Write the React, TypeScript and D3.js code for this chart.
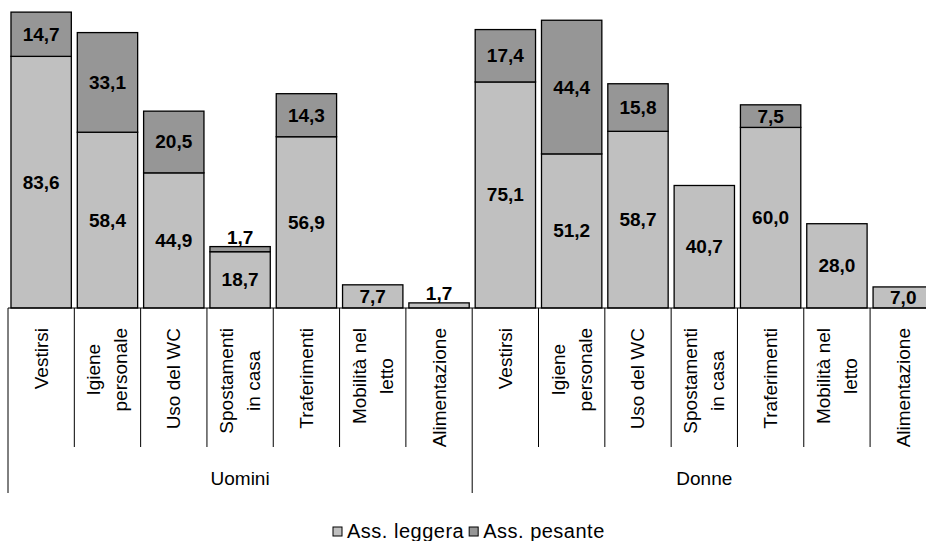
import React, { useEffect, useRef } from 'react'
import * as d3 from 'd3'

const W = 926
const H = 541

const groups = ['Uomini', 'Donne']
const categories = [
  ['Vestirsi'],
  ['Igiene', 'personale'],
  ['Uso del WC'],
  ['Spostamenti', 'in casa'],
  ['Traferimenti'],
  ['Mobilità nel', 'letto'],
  ['Alimentazione'],
]
const leggeraUomini = [83.6, 58.4, 44.9, 18.7, 56.9, 7.7, 1.7]
const pesanteUomini = [14.7, 33.1, 20.5, 1.7, 14.3, 0, 0]
const leggeraDonne = [75.1, 51.2, 58.7, 40.7, 60.0, 28.0, 7.0]
const pesanteDonne = [17.4, 44.4, 15.8, 0, 7.5, 0, 0]
const seriesNames = ['Ass. leggera', 'Ass. pesante']
const colors = ['#c0c0c0', '#969696']

const FONT = '"Liberation Sans", Arial, sans-serif'

export default function App() {
  const ref = useRef<SVGSVGElement | null>(null)

  useEffect(() => {
    if (!ref.current) return
    const svg = d3.select(ref.current)
    svg.selectAll('*').remove()

    const rows = groups.flatMap((g, gi) =>
      categories.map((lines, ci) => ({
        group: g,
        lines,
        leggera: gi === 0 ? leggeraUomini[ci] : leggeraDonne[ci],
        pesante: gi === 0 ? pesanteUomini[ci] : pesanteDonne[ci],
      }))
    )

    const left = 8
    const right = 936.4
    const axisY = 308
    const x = d3
      .scaleBand<number>()
      .domain(d3.range(rows.length))
      .range([left, right])
      .paddingInner(0.09)
      .paddingOuter(0.045)
    const step = (right - left) / rows.length
    const y = d3.scaleLinear().domain([0, 100]).range([axisY, 7])
    const fmt = (v: number) => d3.format('.1f')(v).replace('.', ',')

    const segs = rows.flatMap((r, i) => {
      const out = [{ i, y0: 0, y1: r.leggera, k: 0 }]
      if (r.pesante > 0) out.push({ i, y0: r.leggera, y1: r.leggera + r.pesante, k: 1 })
      return out
    })

    const bars = svg.append('g')
    bars
      .selectAll('rect')
      .data(segs)
      .join('rect')
      .attr('x', (d) => x(d.i)!)
      .attr('width', x.bandwidth())
      .attr('y', (d) => y(d.y1))
      .attr('height', (d) => y(d.y0) - y(d.y1))
      .attr('fill', (d) => colors[d.k])
      .attr('stroke', '#000')
      .attr('stroke-width', 1.3)

    bars
      .selectAll('text')
      .data(segs)
      .join('text')
      .attr('x', (d) => x(d.i)! + x.bandwidth() / 2)
      .attr('y', (d) => {
        const h = y(d.y0) - y(d.y1)
        return h < 16 ? y(d.y1) - 9 : (y(d.y0) + y(d.y1)) / 2
      })
      .attr('text-anchor', 'middle')
      .attr('dominant-baseline', 'central')
      .style('font-family', FONT)
      .style('font-weight', 'bold')
      .style('font-size', '19px')
      .attr('fill', '#000')
      .text((d) => fmt(d.y1 - d.y0))

    // axis line and category separators
    const axis = svg.append('g').attr('stroke', '#000').attr('stroke-width', 1)
    axis
      .append('line')
      .attr('x1', left)
      .attr('x2', right)
      .attr('y1', axisY)
      .attr('y2', axisY)
    axis
      .selectAll('line.sep')
      .data(d3.range(rows.length + 1))
      .join('line')
      .attr('class', 'sep')
      .attr('x1', (i) => left + i * step)
      .attr('x2', (i) => left + i * step)
      .attr('y1', axisY)
      .attr('y2', (i) => (i % categories.length === 0 ? 493 : 447))

    // category labels, rotated, top-aligned
    const labelTop = 328
    const lineGap = 27
    rows.forEach((r, i) => {
      const cx = left + (i + 0.5) * step
      const g = svg.append('g')
      const texts = r.lines.map((line) =>
        g
          .append('text')
          .attr('text-anchor', 'middle')
          .attr('dominant-baseline', 'central')
          .style('font-family', FONT)
          .style('font-size', '19px')
          .attr('fill', '#000')
          .text(line)
      )
      const maxLen = d3.max(texts, (t) => (t.node() as SVGTextElement).getComputedTextLength()) || 0
      const cy = labelTop + maxLen / 2
      texts.forEach((t, k) => {
        const dx = (k - (r.lines.length - 1) / 2) * lineGap
        t.attr('transform', `translate(${cx + dx},${cy}) rotate(-90)`)
      })
    })

    // group labels
    svg
      .append('g')
      .selectAll('text')
      .data(groups)
      .join('text')
      .attr('x', (_, gi) => left + (gi + 0.5) * categories.length * step)
      .attr('y', 478)
      .attr('text-anchor', 'middle')
      .attr('dominant-baseline', 'central')
      .style('font-family', FONT)
      .style('font-size', '19px')
      .text((d) => d)

    // legend, laid out from measured text widths
    const legend = svg.append('g')
    let lx = 333
    seriesNames.forEach((name, k) => {
      legend
        .append('rect')
        .attr('x', lx)
        .attr('y', 527)
        .attr('width', 9)
        .attr('height', 9)
        .attr('fill', colors[k])
        .attr('stroke', '#000')
        .attr('stroke-width', 1)
      const t = legend
        .append('text')
        .attr('x', lx + 14)
        .attr('y', 538)
        .style('font-family', FONT)
        .style('font-size', '20px')
        .style('letter-spacing', '0.5px')
        .text(name)
      lx += 14 + (t.node() as SVGTextElement).getComputedTextLength() + 5
    })
  }, [])

  return (
    <svg
      ref={ref}
      width={W}
      height={H}
      style={{ position: 'absolute', left: 0, top: 0, background: '#fff' }}
    />
  )
}
